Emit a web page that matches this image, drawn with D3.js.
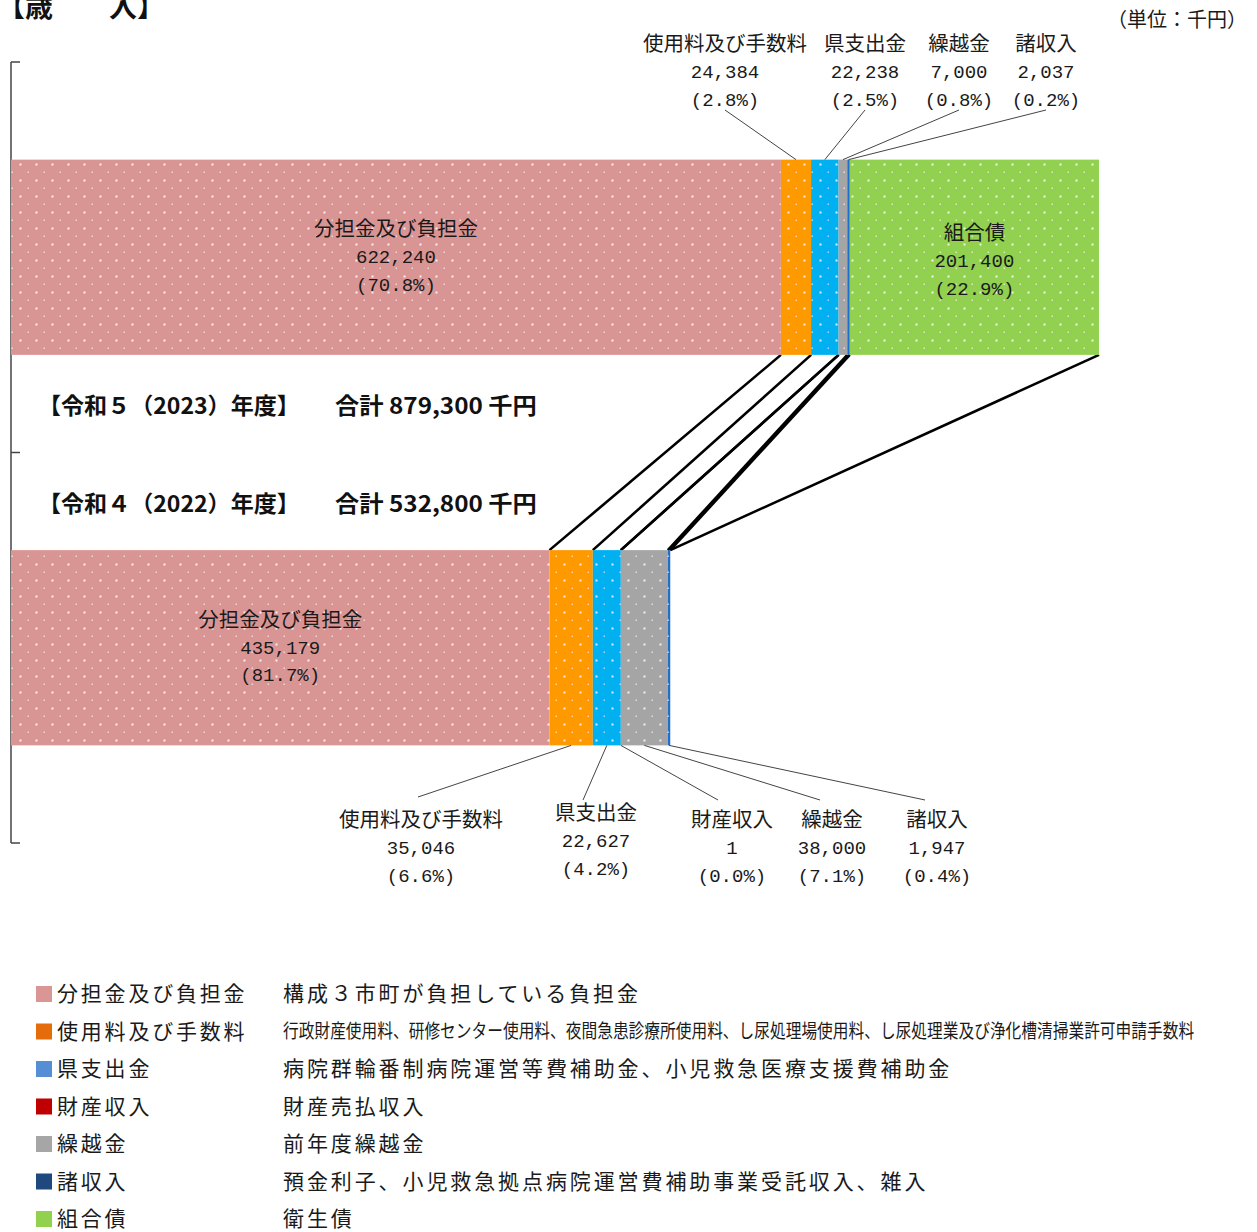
<!DOCTYPE html>
<html><head><meta charset="utf-8">
<script src="https://cdn.jsdelivr.net/npm/d3@7"></script>
<style>
body{margin:0;background:#fff;}
svg{display:block;}
</style></head>
<body>
<script>
// ---------- data ----------
const categories = ["分担金及び負担金","使用料及び手数料","県支出金","財産収入","繰越金","諸収入","組合債"];
const years = ["2023","2022"];
const values2023 = [622240, 24384, 22238, 0, 7000, 2037, 201400];
const values2022 = [435179, 35046, 22627, 1, 38000, 1947, 0];
const yearNames = ["【令和５（2023）年度】","【令和４（2022）年度】"];
const yearTotals = ["合計 879,300 千円","合計 532,800 千円"];
const barColors = ["#D99594","#FF9900","#00B0F0","#C00000","#A5A5A5","#1F6FD0","#92D050"];
const legendColors = ["#DA9694","#E46C0A","#558ED5","#C00000","#A6A6A6","#1F497D","#92D050"];
const descriptions = [
  "構成３市町が負担している負担金",
  "行政財産使用料、研修センター使用料、夜間急患診療所使用料、し尿処理場使用料、し尿処理業及び浄化槽清掃業許可申請手数料",
  "病院群輪番制病院運営等費補助金、小児救急医療支援費補助金",
  "財産売払収入",
  "前年度繰越金",
  "預金利子、小児救急拠点病院運営費補助事業受託収入、雑入",
  "衛生債"
];
const title = "【歳　　入】";
const unitLabel = "（単位：千円）";

// ---------- layout (positions kept separate from data) ----------
const W = 1257, H = 1232;
const topCallouts = [ {cat:1, cx:725, y:44}, {cat:2, cx:865, y:44}, {cat:4, cx:959, y:44}, {cat:5, cx:1046, y:44} ];
const botCallouts = [ {cat:1, cx:421, y:820, lx:418, ly:797}, {cat:2, cx:596, y:813, lx:583, ly:800},
                      {cat:3, cx:732, y:820, lx:718, ly:800}, {cat:4, cx:832, y:820, lx:820, ly:800},
                      {cat:5, cx:937, y:820, lx:925, ly:800} ];
const insideLabels = [ {year:"2023", cat:0, dy:-28}, {year:"2023", cat:6, dy:-24}, {year:"2022", cat:0, dy:-28} ];

const jp = "'Noto Sans CJK JP','Noto Sans',sans-serif";
const mono = "'Liberation Mono','DejaVu Sans Mono',monospace";
const txt = "#1a1a1a";

const svg = d3.select("body").append("svg").attr("width", W).attr("height", H);
const defs = svg.append("defs");

// dotted patterns
barColors.forEach((c, i) => {
  const p = defs.append("pattern").attr("id", "pat" + i).attr("patternUnits", "userSpaceOnUse")
    .attr("width", 16).attr("height", 16);
  p.append("rect").attr("width", 16).attr("height", 16).attr("fill", c);
  p.append("rect").attr("x", 3.5).attr("y", 3.5).attr("width", 2).attr("height", 2).attr("fill", "#fff").attr("opacity", 0.85);
  p.append("rect").attr("x", 11.5).attr("y", 11.5).attr("width", 1.5).attr("height", 1.5).attr("fill", "#fff").attr("opacity", 0.6);
});

// scales
const x = d3.scaleLinear().domain([0, 879300]).range([11, 1099]);
const y = d3.scaleBand().domain(years).range([62, 843]).paddingInner(0.5).paddingOuter(0.25);

const seriesByYear = { "2023": values2023, "2022": values2022 };
function stackOf(vals) {
  let acc = 0;
  return vals.map((v, i) => { const s = acc; acc += v; return {i, v, s, e: acc}; });
}
const stacks = { "2023": stackOf(values2023), "2022": stackOf(values2022) };
const totalOf = { "2023": d3.sum(values2023), "2022": d3.sum(values2022) };

// helper: fit text to a width by horizontal scaling
function fitText(sel, x0, y0, width) {
  const n = sel.node().getComputedTextLength();
  sel.attr("x", 0).attr("y", 0).attr("transform", `translate(${x0},${y0}) scale(${width / n},1)`);
}

// title & unit
svg.append("text").attr("x", -3).attr("y", 17).attr("font-family", jp).attr("font-weight", 700)
  .attr("font-size", 28).attr("fill", "#111").text(title);
svg.append("text").attr("x", 1247).attr("y", 20).attr("dy", "0.35em").attr("text-anchor", "end")
  .attr("font-family", jp).attr("font-size", 20).attr("fill", txt).text(unitLabel);

// axis (category axis)
const axisG = svg.append("g").attr("stroke", "#444").attr("stroke-width", 1.5).attr("fill", "none");
axisG.append("line").attr("x1", 11).attr("x2", 11).attr("y1", y.range()[0]).attr("y2", y.range()[1]);
const bounds = [y.range()[0], (y.range()[0] + y.range()[1]) / 2, y.range()[1]];
axisG.selectAll(".tk").data(bounds).join("line").attr("x1", 11).attr("x2", 20).attr("y1", d => d).attr("y2", d => d);

// series connector lines
const cGroup = svg.append("g").attr("stroke", "#000").attr("stroke-width", 2.6);
categories.forEach((c, i) => {
  const a = stacks["2023"][i], b = stacks["2022"][i];
  cGroup.append("line")
    .attr("x1", x(a.e)).attr("y1", y("2023") + y.bandwidth())
    .attr("x2", x(b.e)).attr("y2", y("2022"));
});

// bars
years.forEach(yr => {
  svg.append("g").selectAll("rect").data(stacks[yr].filter(d => d.v > 0)).join("rect")
    .attr("x", d => x(d.s)).attr("y", y(yr))
    .attr("width", d => x(d.e) - x(d.s)).attr("height", y.bandwidth())
    .attr("fill", d => `url(#pat${d.i})`);
});

const fmt = d3.format(",");
const pct = (v, t) => "(" + (v / t * 100).toFixed(1) + "%)";

function label3(g, cx, cy, cat, yr) {
  const v = seriesByYear[yr][cat];
  g.append("text").attr("x", cx).attr("y", cy).attr("dy", "0.35em").attr("text-anchor", "middle")
    .attr("font-family", jp).attr("font-size", 20.5).attr("fill", txt).text(categories[cat]);
  g.append("text").attr("x", cx).attr("y", cy + 27.5).attr("dy", "0.35em").attr("text-anchor", "middle")
    .attr("font-family", mono).attr("font-size", 19).attr("fill", txt).text(fmt(v));
  g.append("text").attr("x", cx).attr("y", cy + 55).attr("dy", "0.35em").attr("text-anchor", "middle")
    .attr("font-family", mono).attr("font-size", 19).attr("fill", txt).text(pct(v, totalOf[yr]));
}

// inside labels
const labG = svg.append("g");
insideLabels.forEach(d => {
  const s = stacks[d.year][d.cat];
  const cx = (x(s.s) + x(s.e)) / 2;
  const cy = y(d.year) + y.bandwidth() / 2 + d.dy;
  label3(labG, cx, cy, d.cat, d.year);
});

// callouts
const leadG = svg.append("g").attr("stroke", "#444").attr("stroke-width", 1);
topCallouts.forEach(d => {
  const s = stacks["2023"][d.cat];
  label3(labG, d.cx, d.y, d.cat, "2023");
  leadG.append("line").attr("x1", d.cx).attr("y1", d.y + 66)
    .attr("x2", (x(s.s) + x(s.e)) / 2).attr("y2", y("2023"));
});
botCallouts.forEach(d => {
  const s = stacks["2022"][d.cat];
  label3(labG, d.cx, d.y, d.cat, "2022");
  leadG.append("line").attr("x1", d.lx).attr("y1", d.ly)
    .attr("x2", (x(s.s) + x(s.e)) / 2).attr("y2", y("2022") + y.bandwidth());
});

// year titles
years.forEach((yr, i) => {
  const yy = (i === 0 ? y("2023") + y.bandwidth() + 51 : y("2022") - 46) + 8;
  const t1 = svg.append("text").attr("font-family", jp).attr("font-weight", 700).attr("font-size", 22.5)
    .attr("fill", "#111").text(yearNames[i]);
  fitText(t1, 38, yy, 262);
  const t2 = svg.append("text").attr("font-family", jp).attr("font-weight", 700).attr("font-size", 22.5)
    .attr("fill", "#111").text(yearTotals[i]);
  fitText(t2, 335, yy, 202);
});

// legend
const lg = svg.append("g");
categories.forEach((c, i) => {
  const yy = 994 + i * 37.5;
  lg.append("rect").attr("x", 36).attr("y", yy - 8).attr("width", 16).attr("height", 16).attr("fill", legendColors[i]);
  lg.append("text").attr("x", 57).attr("y", yy).attr("dy", "0.35em").attr("font-family", jp)
    .attr("font-size", 21).attr("letter-spacing", 2.8).attr("fill", txt).text(c);
  const t = lg.append("text").attr("font-family", jp).attr("dy", "0.35em")
    .attr("fill", txt).text(descriptions[i]);
  if (descriptions[i].length > 40) {
    t.attr("font-size", 19);
    fitText(t, 283, yy, 912);
  } else {
    t.attr("x", 283).attr("y", yy).attr("font-size", 21).attr("letter-spacing", 2.9);
  }
});
</script>
</body></html>
